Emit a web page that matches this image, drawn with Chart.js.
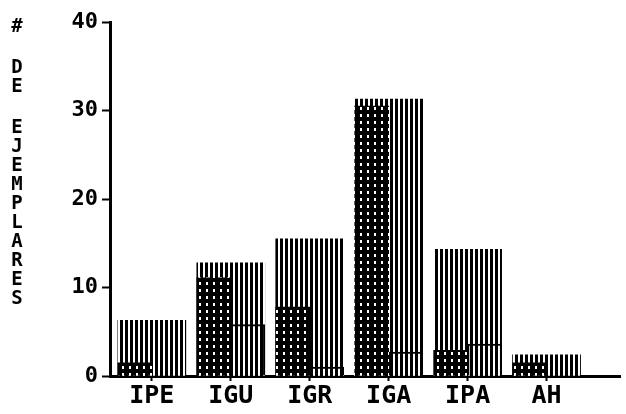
<!DOCTYPE html>
<html>
<head>
<meta charset="utf-8">
<script src="https://cdn.jsdelivr.net/npm/chart.js@4.4.0/dist/chart.umd.min.js"></script>
<style>
html, body { margin: 0; padding: 0; background: #fff; }
</style>
</head>
<body>
<canvas id="chart" width="626" height="414"></canvas>
<script>
// data
const categories = ['IPE', 'IGU', 'IGR', 'IGA', 'IPA', 'AH'];
const totalValues = [6.3, 12.8, 15.5, 31.3, 14.3, 2.4];
const dottedValues = [1.5, 11.1, 7.8, 30.5, 2.9, 1.5];
const outlinedValues = [0, 5.8, 1.0, 2.7, 3.6, 0];
const yTicks = [0, 10, 20, 30, 40];
const axisTitle = '# DE EJEMPLARES';

const FONT = '"DejaVu Sans Mono", "Liberation Mono", monospace';
const SIDE = 0.215; // half-bar shift inside each category

function makePattern(draw, w, h) {
    const c = document.createElement('canvas');
    c.width = w;
    c.height = h;
    draw(c.getContext('2d'), w, h);
    return document.getElementById('chart').getContext('2d').createPattern(c, 'repeat');
}

const stripes = makePattern((g, w, h) => {
    g.fillStyle = '#fff';
    g.fillRect(0, 0, w, h);
    g.fillStyle = '#000';
    g.fillRect(0, 0, 3, h);
}, 5, 4);

const dots = makePattern((g, w, h) => {
    g.fillStyle = '#000';
    g.fillRect(0, 0, w, h);
    g.fillStyle = '#fff';
    g.fillRect(3, 2, 2, 3);
}, 7, 7);

// vertical, letter-by-letter axis title
const stackedTitle = {
    id: 'stackedTitle',
    afterDraw(chart) {
        const ctx = chart.ctx;
        ctx.save();
        ctx.font = 'bold 19px ' + FONT;
        ctx.fillStyle = '#000';
        ctx.textAlign = 'center';
        ctx.textBaseline = 'middle';
        let y = 27;
        for (const ch of axisTitle) {
            if (ch === ' ') { y += 22; continue; }
            ctx.fillText(ch, 17, y);
            y += 19;
        }
        ctx.restore();
    }
};

new Chart(document.getElementById('chart'), {
    type: 'bar',
    data: {
        datasets: [{
            label: 'dotted',
            data: categories.map((c, i) => ({ x: i - SIDE, y: dottedValues[i] })),
            backgroundColor: dots,
            borderWidth: 0,
            barThickness: 34,
            stack: 's'
        }, {
            label: 'outlined',
            data: categories.map((c, i) => ({ x: i + SIDE, y: outlinedValues[i] })),
            backgroundColor: stripes,
            borderColor: '#000',
            borderWidth: 2,
            barThickness: 34,
            stack: 's'
        }, {
            label: 'total',
            data: categories.map((c, i) => ({ x: i, y: totalValues[i] })),
            backgroundColor: stripes,
            borderWidth: 0,
            barThickness: 68,
            stack: 's'
        }]
    },
    options: {
        responsive: false,
        animation: false,
        layout: { padding: { left: 28, right: 6, top: 22, bottom: 0 } },
        plugins: {
            legend: { display: false },
            tooltip: { enabled: false }
        },
        scales: {
            x: {
                type: 'linear',
                min: -0.53,
                max: 5.93,
                offset: false,
                stacked: true,
                afterBuildTicks: s => {
                    s.ticks = categories.map((c, i) => ({ value: i }));
                },
                afterFit: s => { s.height = 38; },
                ticks: {
                    color: '#000',
                    font: { family: FONT, size: 25, weight: 'bold' },
                    padding: 0,
                    maxRotation: 0,
                    callback: v => categories[v] ?? ''
                },
                grid: { offset: false, drawOnChartArea: false, tickLength: 5, tickWidth: 2, tickColor: '#000' },
                border: { color: '#000', width: 3 }
            },
            y: {
                min: 0,
                max: 40,
                stacked: false,
                afterBuildTicks: s => {
                    s.ticks = yTicks.map(v => ({ value: v }));
                },
                afterFit: s => { s.width = 82; },
                ticks: {
                    color: '#000',
                    font: { family: FONT, size: 22, weight: 'bold' },
                    padding: 4
                },
                grid: { drawOnChartArea: false, tickLength: 8, tickWidth: 2, tickColor: '#000' },
                border: { color: '#000', width: 3 }
            }
        }
    },
    plugins: [stackedTitle]
});
</script>
</body>
</html>
